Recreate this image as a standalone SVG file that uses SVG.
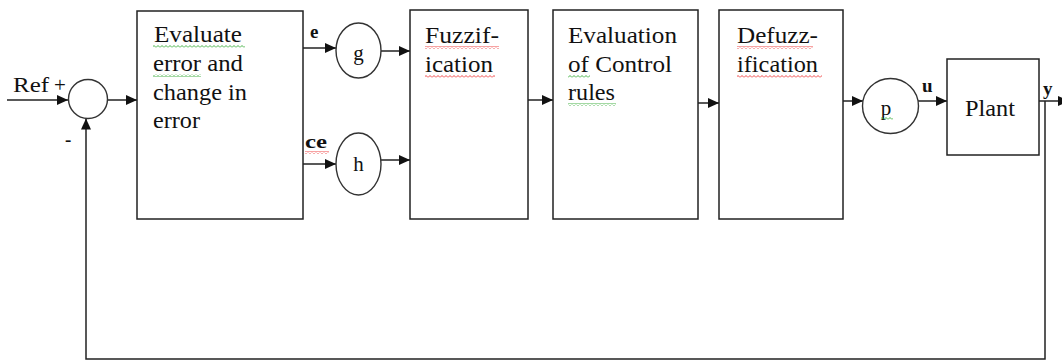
<svg xmlns="http://www.w3.org/2000/svg" width="1062" height="362" viewBox="0 0 1062 362">
<style>
.box{fill:#fff;stroke:#222;stroke-width:1.5}
.ell{fill:#fff;stroke:#333;stroke-width:1.4}
.ln{fill:none;stroke:#222;stroke-width:1.5}
.t{font-family:"Liberation Serif","Times New Roman",serif;font-size:23px;fill:#111}
.s{font-family:"Liberation Serif","Times New Roman",serif;font-size:21px;fill:#111}
.b{font-family:"Liberation Serif","Times New Roman",serif;font-size:19px;font-weight:bold;fill:#111}
</style>
<defs>
<marker id="ah" markerUnits="userSpaceOnUse" markerWidth="12" markerHeight="10" refX="11" refY="5" orient="auto">
<path d="M0,0 L11,5 L0,10 Z" fill="#111"/>
</marker>
<pattern id="wr" patternUnits="userSpaceOnUse" width="4" height="3">
<path d="M0,2.5 L2,0.5 L4,2.5" fill="none" stroke="#e33" stroke-width="0.9"/>
</pattern>
<pattern id="wg" patternUnits="userSpaceOnUse" width="4" height="3">
<path d="M0,2.5 L2,0.5 L4,2.5" fill="none" stroke="#3a3" stroke-width="0.9"/>
</pattern>
</defs>
<rect width="1062" height="362" fill="#fff"/>

<g id="connectors">
<path class="ln" d="M7,100 H68" marker-end="url(#ah)"/>
<path class="ln" d="M108,100 H137" marker-end="url(#ah)"/>
<path class="ln" d="M303,48 H336" marker-end="url(#ah)"/>
<path class="ln" d="M303,164 H336" marker-end="url(#ah)"/>
<path class="ln" d="M381,51 H410" marker-end="url(#ah)"/>
<path class="ln" d="M381,160 H410" marker-end="url(#ah)"/>
<path class="ln" d="M528,100 H553" marker-end="url(#ah)"/>
<path class="ln" d="M692,103 H719" marker-end="url(#ah)"/>
<path class="ln" d="M843,101 H863" marker-end="url(#ah)"/>
<path class="ln" d="M918,101 H947" marker-end="url(#ah)"/>
<path class="ln" d="M1039,101 H1069" marker-end="url(#ah)"/>
<path class="ln" d="M1045,101 V359 H86 V118.5" marker-end="url(#ah)"/>
</g>

<g id="sum">
<circle class="ell" cx="88" cy="99" r="19.5"/>
<text class="s" x="13" y="92" textLength="36" lengthAdjust="spacingAndGlyphs">Ref</text>
<text class="s" x="54" y="92">+</text>
<text class="b" x="65" y="146">-</text>
</g>

<g id="evaluate">
<rect class="box" x="137" y="11" width="166" height="208"/>
<text class="t" x="154" y="42" textLength="88" lengthAdjust="spacingAndGlyphs">Evaluate</text>
<text class="t" x="153" y="71" textLength="90" lengthAdjust="spacingAndGlyphs">error and</text>
<text class="t" x="153" y="100" textLength="94" lengthAdjust="spacingAndGlyphs">change in</text>
<text class="t" x="153" y="128" textLength="47" lengthAdjust="spacingAndGlyphs">error</text>
<rect x="153" y="45" width="92" height="3" fill="url(#wg)"/>
<rect x="153" y="74" width="48" height="3" fill="url(#wg)"/>
</g>

<g id="g">
<ellipse class="ell" cx="358.5" cy="50.5" rx="22.5" ry="27.5"/>
<text class="s" x="358.5" y="60" text-anchor="middle">g</text>
<text class="b" x="310" y="38">e</text>
</g>

<g id="h">
<ellipse class="ell" cx="358.5" cy="164" rx="22.5" ry="31"/>
<text class="s" x="358.5" y="171" text-anchor="middle">h</text>
<text class="b" x="305" y="148" textLength="22" lengthAdjust="spacingAndGlyphs">ce</text>
<rect x="305" y="151" width="24" height="3" fill="url(#wr)"/>
</g>

<g id="fuzzification">
<rect class="box" x="410" y="10" width="118" height="209"/>
<text class="t" x="425" y="43" textLength="74" lengthAdjust="spacingAndGlyphs">Fuzzif-</text>
<text class="t" x="425" y="72" textLength="68" lengthAdjust="spacingAndGlyphs">ication</text>
<rect x="425" y="46" width="74" height="3" fill="url(#wr)"/>
<rect x="425" y="75" width="70" height="3" fill="url(#wr)"/>
</g>

<g id="rules">
<rect class="box" x="553" y="10" width="145" height="209"/>
<text class="t" x="568" y="43" textLength="109" lengthAdjust="spacingAndGlyphs">Evaluation</text>
<text class="t" x="568" y="72" textLength="104" lengthAdjust="spacingAndGlyphs">of Control</text>
<text class="t" x="568" y="100" textLength="47" lengthAdjust="spacingAndGlyphs">rules</text>
<rect x="568" y="75" width="22" height="3" fill="url(#wg)"/>
<rect x="568" y="103" width="48" height="3" fill="url(#wg)"/>
</g>

<g id="defuzzification">
<rect class="box" x="719" y="10" width="124" height="209"/>
<text class="t" x="737" y="43" textLength="81" lengthAdjust="spacingAndGlyphs">Defuzz-</text>
<text class="t" x="737" y="72" textLength="81" lengthAdjust="spacingAndGlyphs">ification</text>
<rect x="737" y="46" width="76" height="3" fill="url(#wr)"/>
<rect x="737" y="75" width="85" height="3" fill="url(#wr)"/>
</g>

<g id="p">
<ellipse class="ell" cx="890.5" cy="106" rx="28" ry="27.5"/>
<text class="s" x="886" y="115" text-anchor="middle">p</text>
<rect x="881" y="117" width="12" height="3" fill="url(#wg)"/>
<text class="b" x="922" y="92">u</text>
</g>

<g id="plant">
<rect class="box" x="947" y="59" width="92" height="96"/>
<text class="t" x="965" y="116" textLength="50" lengthAdjust="spacingAndGlyphs">Plant</text>
<text class="b" x="1043" y="95">y</text>
</g>
</svg>
